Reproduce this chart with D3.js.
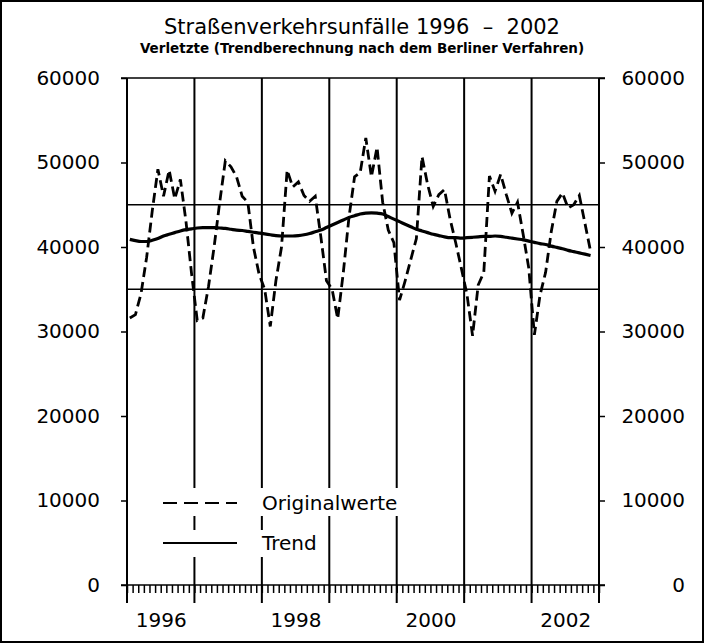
<!DOCTYPE html>
<html>
<head>
<meta charset="utf-8">
<script src="https://cdn.jsdelivr.net/npm/d3@7"></script>
<style>
  body { margin: 0; background: #fff; }
  text { font-family: "DejaVu Sans", sans-serif; fill: #000; }
</style>
</head>
<body>
<div id="chart"></div>
<script>
// Monthly values Jan 1996 - Nov 2002
const original = [
  31600, 32000, 34500, 38800, 44300, 49200, 46000, 49100, 45700, 48000, 43000, 36800,
  31300, 31600, 35300, 40000, 45300, 50200, 49500, 48300, 46000, 45300, 40000, 36800,
  35000, 30600, 36000, 40000, 49100, 47100, 47700, 46100, 45400, 46000, 41200, 36000,
  35000, 31500, 37000, 43500, 48300, 48800, 52900, 48300, 51800, 45300, 42000, 40500,
  33700, 36000, 38500, 41000, 50700, 47400, 44800, 46200, 46800, 43300, 40500, 37500,
  34400, 29500, 35500, 37000, 48400, 46600, 48600, 46200, 44000, 45300, 41500, 37500,
  29600, 34300, 37000, 41800, 45400, 46400, 44600, 45000, 46100, 42800, 39500
];
const trend = [
  40900, 40750, 40650, 40650, 40800, 41000, 41300, 41500, 41700, 41900, 42050, 42150,
  42250, 42300, 42300, 42300, 42250, 42200, 42100, 42000, 41950, 41850, 41750, 41650,
  41550, 41450, 41350, 41300, 41300, 41300, 41350, 41450, 41600, 41800, 42000, 42300,
  42600, 42900, 43200, 43500, 43700, 43900, 44000, 44050, 44000, 43900, 43600, 43300,
  43000, 42700, 42400, 42100, 41900, 41700, 41500, 41350, 41200, 41100, 41100, 41050,
  41100, 41150, 41200, 41250, 41250, 41300, 41250, 41150, 41050, 40950, 40850, 40700,
  40550, 40400, 40300, 40100, 39950, 39800, 39600, 39450, 39300, 39150, 39000
];
const startYear = 1996, endYear = 2003;
const yearLines = [1997, 1998, 1999, 2000, 2001, 2002];
const yearLabels = [1996, 1998, 2000, 2002];
const yTicks = [0, 10000, 20000, 30000, 40000, 50000, 60000];
const refLines = [35000, 45000];
const legendItems = ["Originalwerte", "Trend"];

const width = 704, height = 643;
const plot = { left: 127, right: 599, top: 78, bottom: 585 };

const svg = d3.select("#chart").append("svg")
    .attr("width", width)
    .attr("height", height);

// outer frame
svg.append("rect")
    .attr("x", 1).attr("y", 1)
    .attr("width", width - 2).attr("height", height - 2)
    .attr("fill", "none").attr("stroke", "#000").attr("stroke-width", 2);

const x = d3.scaleLinear().domain([startYear, endYear]).range([plot.left, plot.right]);
const y = d3.scaleLinear().domain([0, 60000]).range([plot.bottom, plot.top]);
const monthX = i => x(startYear + (i + 0.5) / 12);

// titles
svg.append("text")
    .attr("x", 362).attr("y", 34)
    .attr("text-anchor", "middle")
    .style("font-size", "21px")
    .style("white-space", "pre")
    .text("Straßenverkehrsunfälle 1996  –  2002");
svg.append("text")
    .attr("x", 362).attr("y", 53)
    .attr("text-anchor", "middle")
    .style("font-size", "13.5px")
    .style("font-weight", "bold")
    .text("Verletzte (Trendberechnung nach dem Berliner Verfahren)");

// y axes
const yLeft = svg.append("g")
    .attr("transform", `translate(${plot.left},0)`)
    .call(d3.axisLeft(y).tickValues(yTicks).tickSize(6).tickPadding(21).tickFormat(d3.format("d")));
const yRight = svg.append("g")
    .attr("transform", `translate(${plot.right},0)`)
    .call(d3.axisRight(y).tickValues(yTicks).tickSize(6).tickPadding(21).tickFormat(d3.format("d")));
yRight.selectAll("text").attr("text-anchor", "end").attr("x", 86);
[yLeft, yRight].forEach(g => {
  g.select(".domain").remove();
  g.selectAll("line").attr("stroke-width", 1.5);
  g.selectAll("text").style("font-size", "20px").attr("font-family", null);
});

// monthly minor ticks
svg.append("g")
    .attr("transform", `translate(0,${plot.bottom})`)
    .call(d3.axisBottom(x)
        .tickValues(d3.range(0, (endYear - startYear) * 12 + 1).map(m => startYear + m / 12))
        .tickSize(8).tickFormat(""))
    .call(g => g.select(".domain").remove())
    .selectAll("line").attr("stroke-width", 1.5);

// year labels
const xLab = svg.append("g")
    .attr("transform", `translate(0,${plot.bottom})`)
    .call(d3.axisBottom(x)
        .tickValues(yearLabels.map(d => d + 0.5))
        .tickSize(0).tickPadding(28)
        .tickFormat(d => String(Math.floor(d))));
xLab.select(".domain").remove();
xLab.selectAll("text").style("font-size", "20px").attr("font-family", null);

// reference lines
svg.selectAll(".ref").data(refLines).enter().append("line")
    .attr("x1", plot.left).attr("x2", plot.right)
    .attr("y1", d => y(d)).attr("y2", d => y(d))
    .attr("stroke", "#000").attr("stroke-width", 1.3);

// frame top and bottom
svg.append("line").attr("x1", plot.left - 6).attr("x2", plot.right + 6)
    .attr("y1", y(60000)).attr("y2", y(60000))
    .attr("stroke", "#000").attr("stroke-width", 1.6);
svg.append("line").attr("x1", plot.left - 6).attr("x2", plot.right + 6)
    .attr("y1", y(0)).attr("y2", y(0))
    .attr("stroke", "#000").attr("stroke-width", 1.6);

// year grid lines plus side axes
svg.selectAll(".yl").data([startYear, ...yearLines, endYear]).enter().append("line")
    .attr("x1", d => x(d)).attr("x2", d => x(d))
    .attr("y1", y(60000)).attr("y2", plot.bottom + 18)
    .attr("stroke", "#000").attr("stroke-width", 2);

// legend (white background per entry)
const legend = svg.append("g");
const lgRows = [503, 543];
legend.append("rect").attr("x", 158).attr("y", 488).attr("width", 248).attr("height", 28).attr("fill", "#fff");
legend.append("rect").attr("x", 158).attr("y", 530).attr("width", 168).attr("height", 27).attr("fill", "#fff");
legend.selectAll(".lgl").data(legendItems).enter().append("line")
    .attr("x1", 163).attr("x2", 237)
    .attr("y1", (d, i) => lgRows[i]).attr("y2", (d, i) => lgRows[i])
    .attr("stroke", "#000")
    .attr("stroke-width", 2.2)
    .attr("stroke-dasharray", (d, i) => i === 0 ? "14,7" : null);
legend.selectAll(".lgt").data(legendItems).enter().append("text")
    .attr("x", 262).attr("y", (d, i) => lgRows[i])
    .attr("dy", "0.35em")
    .style("font-size", "20px")
    .text(d => d);

// series
svg.append("path")
    .datum(trend)
    .attr("d", d3.line().x((d, i) => monthX(i)).y(d => y(d)).curve(d3.curveMonotoneX))
    .attr("fill", "none").attr("stroke", "#000").attr("stroke-width", 3.2);
svg.append("path")
    .datum(original)
    .attr("d", d3.line().x((d, i) => monthX(i)).y(d => y(d)))
    .attr("fill", "none").attr("stroke", "#000").attr("stroke-width", 2.8)
    .attr("stroke-dasharray", "10,5");
</script>
</body>
</html>
